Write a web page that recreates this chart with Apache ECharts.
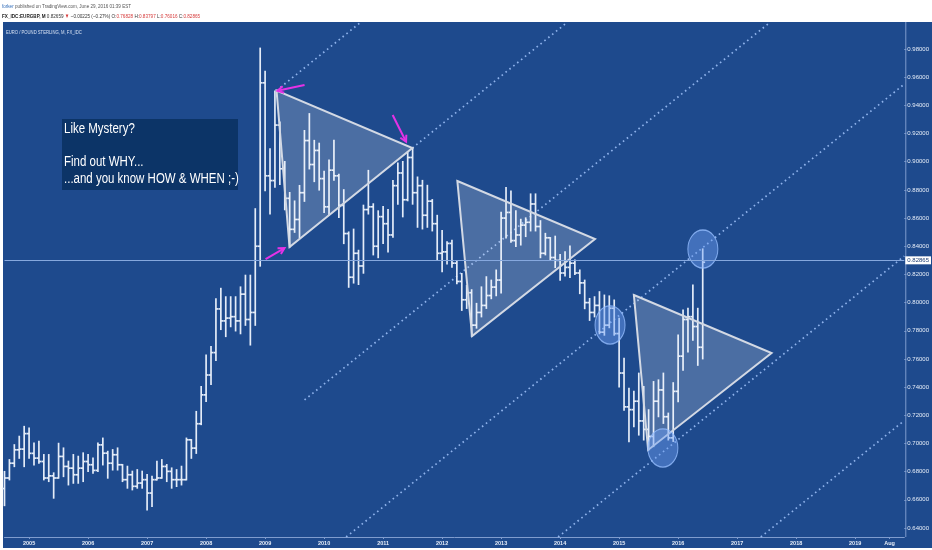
<!DOCTYPE html>
<html>
<head>
<meta charset="utf-8">
<title>EUR/GBP monthly</title>
<script src="https://cdn.jsdelivr.net/npm/echarts@6/dist/echarts.min.js"></script>
<style>
  html, body { margin: 0; padding: 0; background: #fff; }
  #wrap { position: relative; width: 932px; height: 550px; }
  #panel { position: absolute; left: 3px; top: 22px; width: 929px; height: 526px; background: #1e4a8d; }
  #chart { position: absolute; left: 0; top: 0; width: 932px; height: 550px; }
</style>
</head>
<body>
<div id="wrap"><div id="panel"></div><div id="chart"></div></div>
<script type="text/javascript">
// monthly bars, Aug 2004 .. Jun 2016 (x = months counted from Jan 2005)
var firstMonth = -5;
var barOpen = [
  0.6680, 0.6755, 0.6860, 0.6955, 0.6960,
  0.7070, 0.6930, 0.6896, 0.6872, 0.6755, 0.6770, 0.6755, 0.6908, 0.6837, 0.6825, 0.6778, 0.6825,
  0.6872, 0.6849, 0.6809, 0.6990, 0.6931, 0.6860, 0.6920, 0.6849, 0.6743, 0.6778, 0.6696, 0.6719,
  0.6743, 0.6648, 0.6743, 0.6755, 0.6837, 0.6802, 0.6743, 0.6743, 0.6743, 0.7026, 0.6967, 0.7140,
  0.7345, 0.7486, 0.7645, 0.7955, 0.7870, 0.7890, 0.7900, 0.7870, 0.8060, 0.7880, 0.7930, 0.8400,
  0.9560, 0.8900, 0.8866, 0.9260, 0.8950, 0.8740, 0.8520, 0.8590, 0.8780, 0.9150, 0.8980, 0.9080,
  0.8880, 0.8680, 0.8940, 0.8900, 0.8690, 0.8490, 0.8180, 0.8350, 0.8260, 0.8660, 0.8680, 0.8400,
  0.8610, 0.8560, 0.8480, 0.8830, 0.8920, 0.8730, 0.9030, 0.8780, 0.8830, 0.8620, 0.8720, 0.8560,
  0.8350, 0.8360, 0.8420, 0.8280, 0.8150, 0.8020, 0.8070, 0.7840, 0.7930, 0.7980, 0.8050, 0.8110,
  0.8160, 0.8600, 0.8640, 0.8440, 0.8480, 0.8550, 0.8570, 0.8700, 0.8540, 0.8350, 0.8460, 0.8320,
  0.8300, 0.8210, 0.8250, 0.8280, 0.8210, 0.8140, 0.8000, 0.7930, 0.7980, 0.7790, 0.7840, 0.7960,
  0.7780, 0.7500, 0.7260, 0.7240, 0.7300, 0.7160, 0.7100, 0.7050, 0.7300, 0.7380, 0.7190, 0.7040,
  0.7370, 0.7620, 0.7880, 0.7900, 0.7830, 0.76828
];
var barHigh = [
  0.6800, 0.6884, 0.6990, 0.7050, 0.7120,
  0.7108, 0.7002, 0.7014, 0.6920, 0.6920, 0.6790, 0.7000, 0.6967, 0.6873, 0.6920, 0.6908, 0.6932,
  0.6920, 0.6896, 0.7002, 0.7037, 0.6943, 0.6955, 0.6967, 0.6849, 0.6837, 0.6802, 0.6813, 0.6802,
  0.6778, 0.6766, 0.6873, 0.6884, 0.6849, 0.6825, 0.6813, 0.6837, 0.7037, 0.7026, 0.7226, 0.7403,
  0.7627, 0.7687, 0.8025, 0.8100, 0.8040, 0.8040, 0.8040, 0.8110, 0.8193, 0.8193, 0.8665, 0.9805,
  0.9640, 0.9090, 0.9500, 0.9280, 0.9000, 0.8780, 0.8720, 0.8830, 0.9220, 0.9340, 0.9150, 0.9130,
  0.8930, 0.9010, 0.9150, 0.8910, 0.8800, 0.8500, 0.8520, 0.8370, 0.8690, 0.8937, 0.8700, 0.8650,
  0.8680, 0.8660, 0.8866, 0.8990, 0.9000, 0.9067, 0.9095, 0.8890, 0.8866, 0.8831, 0.8730, 0.8618,
  0.8510, 0.8430, 0.8441, 0.8290, 0.8205, 0.8120, 0.8090, 0.7993, 0.8110, 0.8182, 0.8158, 0.8230,
  0.8640, 0.8815, 0.8790, 0.8650, 0.8590, 0.8600, 0.8770, 0.8770, 0.8580, 0.8490, 0.8460, 0.8470,
  0.8340, 0.8360, 0.8400, 0.8300, 0.8230, 0.8158, 0.8028, 0.8040, 0.8076, 0.8052, 0.8046, 0.8017,
  0.7887, 0.7604, 0.7391, 0.7370, 0.7498, 0.7403, 0.7238, 0.7438, 0.7450, 0.7498, 0.7214, 0.7430,
  0.7769, 0.7946, 0.7958, 0.8123, 0.7958, 0.83797
];
var barLow = [
  0.6560, 0.6743, 0.6837, 0.6896, 0.6837,
  0.6896, 0.6849, 0.6861, 0.6743, 0.6731, 0.6613, 0.6755, 0.6766, 0.6707, 0.6719, 0.6719, 0.6731,
  0.6802, 0.6790, 0.6802, 0.6849, 0.6755, 0.6813, 0.6813, 0.6731, 0.6684, 0.6672, 0.6684, 0.6684,
  0.6530, 0.6554, 0.6743, 0.6755, 0.6731, 0.6684, 0.6696, 0.6707, 0.6743, 0.6896, 0.6931, 0.7135,
  0.7300, 0.7420, 0.7590, 0.7810, 0.7760, 0.7830, 0.7800, 0.7780, 0.7840, 0.7700, 0.7840, 0.8260,
  0.8795, 0.8630, 0.8820, 0.8840, 0.8660, 0.8395, 0.8500, 0.8460, 0.8720, 0.8950, 0.8860, 0.8800,
  0.8640, 0.8620, 0.8870, 0.8606, 0.8420, 0.8110, 0.8140, 0.8130, 0.8210, 0.8630, 0.8340, 0.8320,
  0.8420, 0.8360, 0.8465, 0.8700, 0.8610, 0.8724, 0.8700, 0.8536, 0.8524, 0.8536, 0.8510, 0.8300,
  0.8220, 0.8276, 0.8253, 0.8135, 0.7946, 0.7960, 0.7762, 0.7820, 0.7900, 0.7960, 0.8029, 0.8050,
  0.8070, 0.8460, 0.8430, 0.8400, 0.8410, 0.8470, 0.8510, 0.8510, 0.8320, 0.8340, 0.8300, 0.8250,
  0.8160, 0.8190, 0.8180, 0.8200, 0.8065, 0.7958, 0.7875, 0.7900, 0.7780, 0.7770, 0.7823, 0.7770,
  0.7403, 0.7238, 0.7014, 0.7120, 0.7061, 0.7026, 0.6955, 0.6979, 0.7191, 0.7144, 0.7026, 0.7016,
  0.7297, 0.7521, 0.7650, 0.7734, 0.7556, 0.76016
];
var barClose = [
  0.6755, 0.6860, 0.6955, 0.6960, 0.7070,
  0.6930, 0.6896, 0.6872, 0.6755, 0.6770, 0.6755, 0.6908, 0.6837, 0.6825, 0.6778, 0.6825, 0.6872,
  0.6849, 0.6809, 0.6990, 0.6931, 0.6860, 0.6920, 0.6849, 0.6743, 0.6778, 0.6696, 0.6719, 0.6743,
  0.6648, 0.6743, 0.6755, 0.6837, 0.6802, 0.6743, 0.6743, 0.6743, 0.7026, 0.6967, 0.7140, 0.7345,
  0.7486, 0.7645, 0.7955, 0.7870, 0.7890, 0.7900, 0.7870, 0.8060, 0.7880, 0.7930, 0.8400, 0.9560,
  0.8900, 0.8866, 0.9260, 0.8950, 0.8740, 0.8520, 0.8590, 0.8780, 0.9150, 0.8980, 0.9080, 0.8880,
  0.8680, 0.8940, 0.8900, 0.8690, 0.8490, 0.8180, 0.8350, 0.8260, 0.8660, 0.8680, 0.8400, 0.8610,
  0.8560, 0.8480, 0.8830, 0.8920, 0.8730, 0.9030, 0.8780, 0.8830, 0.8620, 0.8720, 0.8560, 0.8350,
  0.8360, 0.8420, 0.8280, 0.8150, 0.8020, 0.8070, 0.7840, 0.7930, 0.7980, 0.8050, 0.8110, 0.8160,
  0.8600, 0.8640, 0.8440, 0.8480, 0.8550, 0.8570, 0.8700, 0.8540, 0.8350, 0.8460, 0.8320, 0.8300,
  0.8210, 0.8250, 0.8280, 0.8210, 0.8140, 0.8000, 0.7930, 0.7980, 0.7790, 0.7840, 0.7960, 0.7780,
  0.7500, 0.7260, 0.7240, 0.7300, 0.7160, 0.7100, 0.7050, 0.7300, 0.7380, 0.7190, 0.7040, 0.7370,
  0.7620, 0.7880, 0.7900, 0.7830, 0.7683, 0.82865
];

var xTickValues = [0, 12, 24, 36, 48, 60, 72, 84, 96, 108, 120, 132, 144, 156, 168, 175];
var xTickLabels = ['2005', '2006', '2007', '2008', '2009', '2010', '2011', '2012', '2013', '2014',
                   '2015', '2016', '2017', '2018', '2019', 'Aug'];
var yMin = 0.64, yMax = 0.98, yStep = 0.02;

// drawings (month, price)
var triangles = [
  [50.33, 0.9505, 52.97, 0.8395, 77.95, 0.9097],
  [87.1, 0.8863, 115.1, 0.8451, 90.1, 0.7762],
  [123.0, 0.8054, 151.0, 0.7642, 125.9, 0.6954]
];
var channelLines = [
  [50.33, 0.9505, 67.27, 0.9985],
  [77.95, 0.9097, 109.3, 0.9985],
  [56.02, 0.7309, 150.53, 0.9985],
  [64.48, 0.6336, 178, 0.9551],
  [107.59, 0.6336, 178, 0.8330],
  [148.81, 0.6336, 178, 0.7163]
];
var circles = [[118.15, 0.7841], [128.9, 0.6968], [137.03, 0.8380]];
var arrows = [
  [56.02, 0.9545, 50.5, 0.9503],
  [48.1, 0.8309, 51.95, 0.8387],
  [73.94, 0.9332, 76.67, 0.9142]
];

var sans = '"Liberation Sans", Arial, sans-serif';
var last = barClose.length - 1;

var barRows = barOpen.map(function (o, i) {
  return [firstMonth + i, o, barHigh[i], barLow[i], barClose[i]];
});

function renderBar(params, api) {
  var x = api.value(0);
  var o = api.coord([x, api.value(1)]);
  var h = api.coord([x, api.value(2)]);
  var l = api.coord([x, api.value(3)]);
  var c = api.coord([x, api.value(4)]);
  var st = { stroke: '#e4ecf8', lineWidth: 1.7 };
  return {
    type: 'group',
    children: [
      { type: 'line', shape: { x1: h[0], y1: h[1] - 0.7, x2: l[0], y2: l[1] + 0.7 }, style: st },
      { type: 'line', shape: { x1: o[0] - 2.4, y1: o[1], x2: o[0], y2: o[1] }, style: st },
      { type: 'line', shape: { x1: c[0], y1: c[1], x2: c[0] + 2.4, y2: c[1] }, style: st }
    ]
  };
}

function renderTriangle(params, api) {
  var pts = [0, 2, 4].map(function (k) { return api.coord([api.value(k), api.value(k + 1)]); });
  return {
    type: 'polygon',
    shape: { points: pts },
    style: { fill: 'rgba(255,255,255,0.2)', stroke: '#d3d9e4', lineWidth: 2 }
  };
}

function renderChannel(params, api) {
  var a = api.coord([api.value(0), api.value(1)]);
  var b = api.coord([api.value(2), api.value(3)]);
  return {
    type: 'line',
    shape: { x1: a[0], y1: a[1], x2: b[0], y2: b[1] },
    style: { stroke: '#8fb3ec', lineWidth: 1.7, lineDash: [1.6, 3.4] }
  };
}

function renderCircle(params, api) {
  var p = api.coord([api.value(0), api.value(1)]);
  return {
    type: 'circle',
    x: p[0], y: p[1], scaleY: 1.27,
    shape: { cx: 0, cy: 0, r: 15 },
    style: { fill: 'rgba(110,160,245,0.45)', stroke: 'rgba(150,190,255,0.8)', lineWidth: 1 }
  };
}

function renderArrow(params, api) {
  var a = api.coord([api.value(0), api.value(1)]);
  var b = api.coord([api.value(2), api.value(3)]);
  var ang = Math.atan2(b[1] - a[1], b[0] - a[0]);
  var len = 7, spread = 0.5;
  var h1 = [b[0] - len * Math.cos(ang - spread), b[1] - len * Math.sin(ang - spread)];
  var h2 = [b[0] - len * Math.cos(ang + spread), b[1] - len * Math.sin(ang + spread)];
  var st = { stroke: '#e532e6', lineWidth: 2, fill: null };
  return {
    type: 'group',
    children: [
      { type: 'line', shape: { x1: a[0], y1: a[1], x2: b[0], y2: b[1] }, style: st },
      { type: 'polyline', shape: { points: [h1, b, h2] }, style: st }
    ]
  };
}

var myChart = echarts.init(document.getElementById('chart'));
var fmt = function (v) { return v.toFixed(5); };

option = {
  backgroundColor: 'transparent',
  animation: false,
  grid: { left: 4.5, right: 26.2, top: 49, bottom: 22 },
  xAxis: {
    type: 'value',
    min: firstMonth, max: 178,
    offset: 9,
    splitLine: { show: false },
    axisLine: { show: true, onZero: false, lineStyle: { color: '#7f9cce', width: 1 } },
    axisTick: { show: true, length: 2, customValues: xTickValues, lineStyle: { color: '#7f9cce' } },
    axisLabel: {
      customValues: xTickValues,
      formatter: function (v) { return xTickLabels[xTickValues.indexOf(v)]; },
      color: '#e6edf8', fontSize: 5.5, fontFamily: sans, fontWeight: 'bold', margin: 3
    }
  },
  yAxis: {
    type: 'value',
    position: 'right',
    min: yMin, max: yMax, interval: yStep,
    splitLine: { show: false },
    axisLine: { show: false, onZero: false },
    axisTick: { show: true, length: 2, lineStyle: { color: '#7f9cce' } },
    axisLabel: { formatter: fmt, color: '#e6edf8', fontSize: 6, fontFamily: sans, margin: 3 }
  },
  series: [
    {
      type: 'custom', name: 'channel', renderItem: renderChannel,
      encode: { x: [0, 2], y: [1, 3] }, data: channelLines, z: 1
    },
    {
      type: 'custom', name: 'EURGBP', renderItem: renderBar,
      encode: { x: 0, y: [1, 2, 3, 4] }, data: barRows, z: 2,
      markLine: {
        silent: true, symbol: 'none',
        data: [{ yAxis: barClose[last] }],
        lineStyle: { color: '#86a8de', width: 1, type: 'solid' },
        label: {
          position: 'end', distance: 1, formatter: fmt(barClose[last]),
          backgroundColor: '#ffffff', color: '#1c3d73', fontSize: 6, fontFamily: sans, padding: [1, 2]
        }
      }
    },
    {
      type: 'custom', name: 'triangles', renderItem: renderTriangle,
      encode: { x: [0, 2, 4], y: [1, 3, 5] }, data: triangles, z: 3
    },
    {
      type: 'custom', name: 'circles', renderItem: renderCircle,
      encode: { x: 0, y: 1 }, data: circles, z: 4
    },
    {
      type: 'custom', name: 'arrows', renderItem: renderArrow,
      encode: { x: [0, 2], y: [1, 3] }, data: arrows, z: 5
    }
  ],
  graphic: [
    { type: 'line', shape: { x1: 905.8, y1: 22, x2: 905.8, y2: 537 }, style: { stroke: '#7f9cce', lineWidth: 1 } },
    {
      type: 'text', x: 2, y: 3, scaleX: 0.76,
      style: {
        text: '{a|forker} published on TradingView.com, June 29, 2016 01:39 EST',
        fill: '#555', fontSize: 6, fontFamily: sans,
        rich: { a: { fill: '#2f6bb8', color: '#2f6bb8', fontSize: 6, fontFamily: sans } }
      }
    },
    {
      type: 'text', x: 2, y: 13, scaleX: 0.77,
      style: {
        text: '{b|FX_IDC:EURGBP, M} 0.82659 {r|\u25BC} \u22120.00225 (\u22120.27%) O:{r|' + fmt(barOpen[last]) +
              '} H:{r|' + fmt(barHigh[last]) + '} L:{r|' + fmt(barLow[last]) + '} C:{r|' + fmt(barClose[last]) + '}',
        fill: '#333', fontSize: 6, fontFamily: sans,
        rich: {
          b: { fill: '#222', color: '#222', fontWeight: 'bold', fontSize: 6, fontFamily: sans },
          r: { fill: '#d63a3a', color: '#d63a3a', fontSize: 6, fontFamily: sans }
        }
      }
    },
    {
      type: 'text', x: 6, y: 29, scaleX: 0.76,
      style: { text: 'EURO / POUND STERLING, M, FX_IDC', fill: '#d5e0f2', fontSize: 5.5, fontFamily: sans }
    },
    {
      type: 'group', x: 62, y: 119,
      children: [
        { type: 'rect', shape: { x: 0, y: 0, width: 176, height: 71 }, style: { fill: '#0c3467' } },
        { type: 'text', x: 2, y: 3, scaleX: 0.82, style: { text: 'Like Mystery?', fill: '#fff', fontSize: 14, fontFamily: sans } },
        { type: 'text', x: 2, y: 36, scaleX: 0.82, style: { text: 'Find out WHY...', fill: '#fff', fontSize: 14, fontFamily: sans } },
        { type: 'text', x: 2, y: 53, scaleX: 0.82, style: { text: '...and you know HOW & WHEN ;-)', fill: '#fff', fontSize: 14, fontFamily: sans } }
      ]
    }
  ]
};
myChart.setOption(option);
</script>
</body>
</html>
